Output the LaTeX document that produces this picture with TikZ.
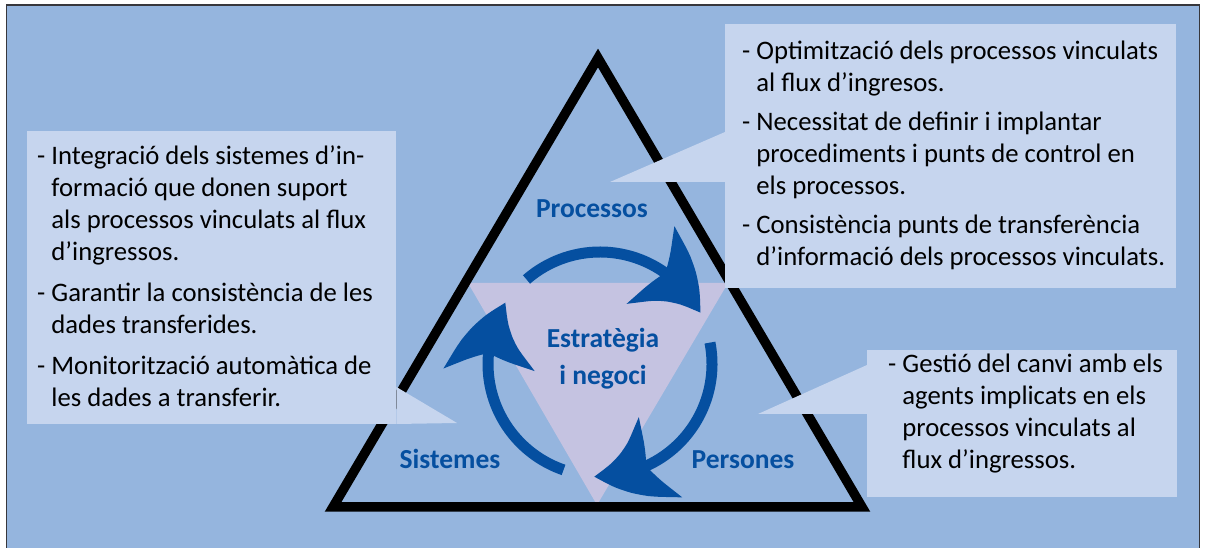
\documentclass[tikz,border=0pt]{standalone}
\usepackage{fontspec}
\setmainfont{Carlito}
\usepackage{tikz}
\usetikzlibrary{arrows.meta}
\usetikzlibrary{bending}

\definecolor{bgblue}{RGB}{149,181,222}
\definecolor{boxblue}{RGB}{198,213,238}
\definecolor{lilac}{RGB}{197,195,225}
\definecolor{darkblue}{RGB}{5,79,160}
\definecolor{framegray}{RGB}{55,55,60}
\newcommand{\cont}{\hphantom{-\ }}

\begin{document}
\begin{tikzpicture}[x=1pt, y=1pt, every node/.style={inner sep=0pt},
	callout/.style={fill=boxblue, anchor=south west},
	bodytext/.style={anchor=base west, font=\fontsize{26.7}{32}\selectfont},
	corner/.style={anchor=base, text=darkblue, font=\bfseries\fontsize{27.5}{37}\selectfont},
	cycle arrow/.style={draw=darkblue, line width=11pt, -{Stealth[length=70pt, width=88pt, inset=16pt, bend]}}]
	
	\useasboundingbox (0,0) rectangle (1206,548);
	\fill[bgblue] (6,0) rectangle (1200,543);
	\draw[framegray, line width=1.5pt] (6.5,0) -- (6.5,543) -- (1199.5,543) -- (1199.5,0);
	
	% triangles
	\fill[lilac] (468,265) -- (728,265) -- (597,43) -- cycle;
	\begin{scope}[shift={(600,184)}]
		\foreach \r in {0,120,240} {
			\draw[cycle arrow] (131-\r:112) arc[start angle=131-\r, end angle=27-\r, radius=112];
		}
	\end{scope}
	\draw[line width=9.5pt] (598,490) -- (862,41) -- (333,41) -- cycle;
	
	\node[corner] (proc) at (592,330) {Processos};
	\node[corner] (strat) at (603,200) {\parbox[t]{160pt}{\centering Estratègia\\i negoci}};
	\node[corner] (sist) at (450,79) {Sistemes};
	\node[corner] (pers) at (743,79) {Persones};
	
	% callouts
	\node[callout, minimum width=451pt, minimum height=264pt] (procbox) at (725,260) {};
	\coordinate (procpt) at (610,366);
	\fill[boxblue] ([yshift=156pt]procbox.south west) -- (procpt) -- ([yshift=106pt]procbox.south west) -- cycle;
	
	\node[callout, minimum width=369pt, minimum height=293pt] (sistbox) at (27,124) {};
	\coordinate (sistpt) at (457,125);
	\fill[boxblue] ([yshift=37pt]sistbox.south east) -- (sistpt) -- (sistbox.south east) -- cycle;
	
	\node[callout, minimum width=310pt, minimum height=147pt] (persbox) at (867,51) {};
	\coordinate (perspt) at (758,134);
	\fill[boxblue] ([yshift=132pt]persbox.south west) -- (perspt) -- ([yshift=83pt]persbox.south west) -- cycle;
	
	\node[bodytext] (proctext) at (742,488) {\parbox[t]{500pt}{\raggedright
		- Optimització dels processos vinculats\\
		\cont al flux d’ingresos.\\[7pt]
		- Necessitat de definir i implantar\\
		\cont procediments i punts de control en\\
		\cont els processos.\\[7pt]
		- Consistència punts de transferència\\
		\cont d’informació dels processos vinculats.}};
	\node[bodytext] (sisttext) at (37,383) {\parbox[t]{500pt}{\raggedright
		- Integració dels sistemes d’in-\\
		\cont formació que donen suport\\
		\cont als processos vinculats al flux\\
		\cont d’ingressos.\\[9pt]
		- Garantir la consistència de les\\
		\cont dades transferides.\\[9pt]
		- Monitorització automàtica de\\
		\cont les dades a transferir.}};
	\node[bodytext] (perstext) at (888,175) {\parbox[t]{500pt}{\raggedright
		- Gestió del canvi amb els\\
		\cont agents implicats en els\\
		\cont processos vinculats al\\
		\cont flux d’ingressos.}};
\end{tikzpicture}
\end{document}
